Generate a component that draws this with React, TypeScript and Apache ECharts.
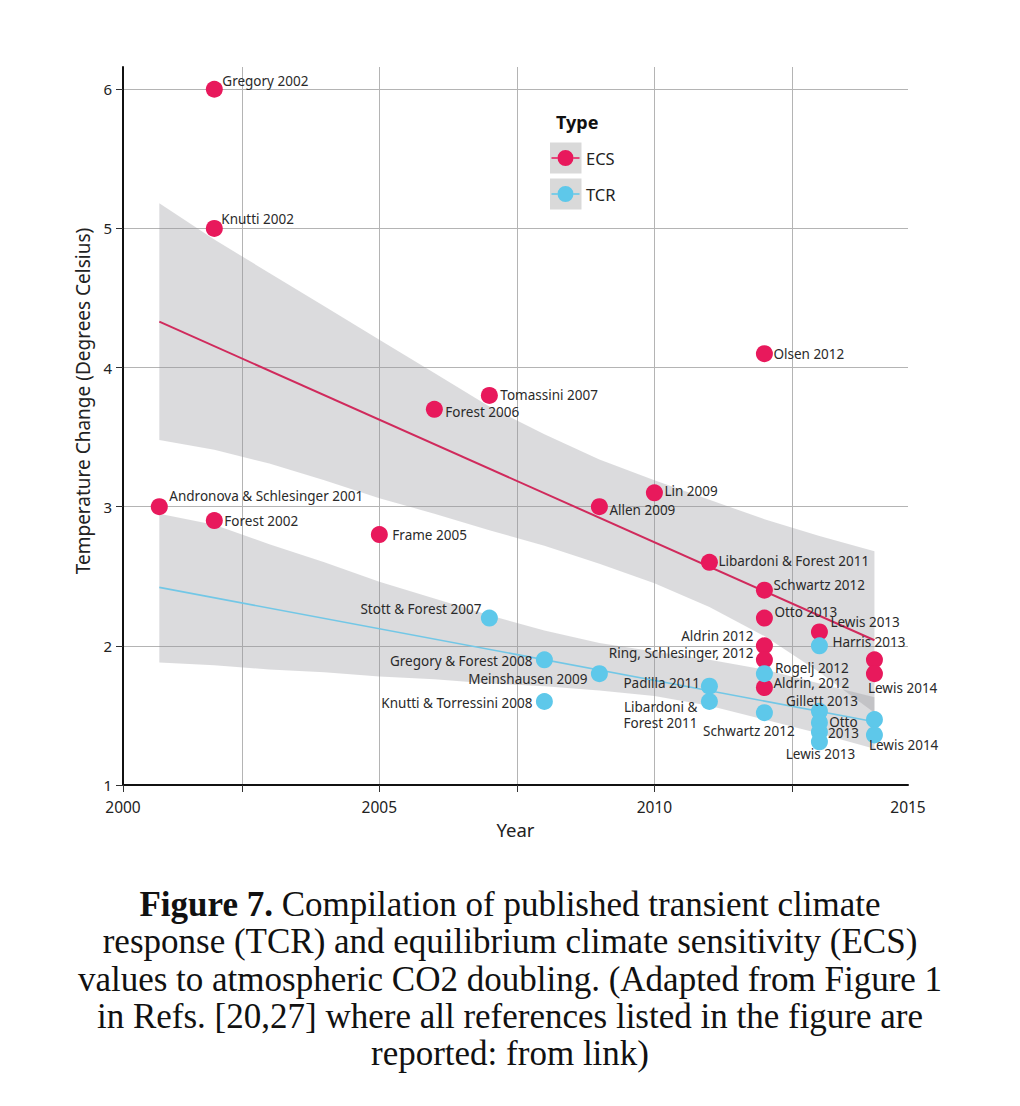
import React, { useEffect, useRef } from "react";
import * as echarts from "echarts";

// ---------- data ----------
const ecsNames = [
  "Gregory 2002", "Knutti 2002", "Andronova & Schlesinger 2001", "Forest 2002", "Frame 2005",
  "Forest 2006", "Tomassini 2007", "Allen 2009", "Lin 2009", "Libardoni & Forest 2011",
  "Schwartz 2012", "Olsen 2012", "Otto 2013", "Aldrin 2012", "Ring, Schlesinger, 2012",
  "Aldrin, 2012", "Lewis 2013", "", "Lewis 2014",
];
const ecsYears = [2002, 2002, 2001, 2002, 2005, 2006, 2007, 2009, 2010, 2011, 2012, 2012, 2012, 2012, 2012, 2012, 2013, 2014, 2014];
const ecsValues = [6.0, 5.0, 3.0, 2.9, 2.8, 3.7, 3.8, 3.0, 3.1, 2.6, 2.4, 4.1, 2.2, 2.0, 1.9, 1.7, 2.1, 1.9, 1.8];

const tcrNames = [
  "Stott & Forest 2007", "Gregory & Forest 2008", "Knutti & Torressini 2008", "Meinshausen 2009",
  "Padilla 2011", "Libardoni &\nForest 2011", "Rogelj 2012", "Schwartz 2012", "Harris 2013",
  "Gillett 2013", "Otto\n2013", "", "Lewis 2013", "", "Lewis 2014",
];
const tcrYears = [2007, 2008, 2008, 2009, 2011, 2011, 2012, 2012, 2013, 2013, 2013, 2013, 2013, 2014, 2014];
const tcrValues = [2.2, 1.9, 1.6, 1.8, 1.71, 1.6, 1.8, 1.52, 2.0, 1.53, 1.45, 1.38, 1.31, 1.47, 1.36];

// regression fits (end points)
const fitYears = [2001, 2014];
const ecsFit = [4.33, 2.04];
const tcrFit = [2.42, 1.455];

// confidence bands (edges read at each year)
const bandYears = [2001, 2002, 2003, 2004, 2005, 2006, 2007, 2008, 2009, 2010, 2011, 2012, 2013, 2014];
const ecsUpper = [5.18, 4.92, 4.68, 4.44, 4.2, 3.96, 3.72, 3.52, 3.34, 3.19, 3.05, 2.91, 2.79, 2.68];
const ecsLower = [3.48, 3.41, 3.31, 3.19, 3.06, 2.95, 2.83, 2.72, 2.59, 2.45, 2.28, 2.07, 1.81, 1.52];
const tcrUpper = [2.95, 2.87, 2.73, 2.6, 2.46, 2.34, 2.22, 2.11, 2.02, 1.96, 1.9, 1.83, 1.73, 1.63];
const tcrLower = [1.88, 1.86, 1.83, 1.81, 1.78, 1.76, 1.73, 1.71, 1.68, 1.64, 1.57, 1.47, 1.37, 1.26];

// axes
const xMin = 2000.34;
const xMax = 2014.61;
const xTickValues = [2000.34, 2002.5, 2005, 2007.5, 2010, 2012.5];
const xLabelValues = [2000.34, 2005, 2010, 2014.61];
const xTickLabels = ["2000", "2005", "2010", "2015"];
const yMin = 1;
const yMax = 6.16;
const yTickValues = [1, 2, 3, 4, 5, 6];
const yTickLabels = ["1", "2", "3", "4", "5", "6"];

const legendNames = ["ECS", "TCR"];
const legendTitle = "Type";
const xAxisTitle = "Year";
const yAxisTitle = "Temperature Change (Degrees Celsius)";
const captionLines = [
  "{b|Figure 7.} Compilation of published transient climate",
  "response (TCR) and equilibrium climate sensitivity (ECS)",
  "values to atmospheric CO2 doubling. (Adapted from Figure 1",
  "in Refs. [20,27] where all references listed in the figure are",
  "reported: from link)",
];

// ---------- label layout (align, dx, dy relative to point centre, line height) ----------
type LL = [string, number, number, number?];
const ecsLabelLayout: LL[] = [
  ["left", 8, -8], ["left", 7, -9], ["left", 10, -11], ["left", 10, 0], ["left", 13, 0],
  ["left", 11, 3], ["left", 11, 0], ["left", 10, 3.5], ["left", 10, -1.5], ["left", 9, -1],
  ["left", 9, -5], ["left", 9, 0], ["left", 10, -6], ["right", -11, -10], ["right", -11, -7],
  ["left", 9, -5], ["left", 11, -9.5], ["left", 0, 0], ["left", -6.5, 14.5],
];
const tcrLabelLayout: LL[] = [
  ["right", -8, -9], ["right", -12, 1], ["right", -12, 1], ["right", -12, 5.5],
  ["right", -9.5, -3.5], ["right", -12, 13.5, 16], ["left", 10.5, -5.5], ["center", -15.5, 18], ["left", 13, -4],
  ["center", 2.5, -10.5], ["center", 24, 5, 11], ["left", 0, 0], ["center", 1, 12], ["left", 0, 0], ["left", -5.5, 10],
];

const ECS_COLOR = "#E8195C";
const TCR_COLOR = "#5EC8EA";
const ECS_LINE = "#D02A5C";
const TCR_LINE = "#72C7E6";
const BAND = "rgba(150,150,156,0.34)";
const SANS = "Noto Sans";
const SERIF = "Liberation Serif";
const SYM = 17;

function pointData(years: number[], values: number[], names: string[], layout: LL[]) {
  return years.map((yr, i) => {
    const [align, dx, dy, lh] = layout[i];
    return {
      value: [yr, values[i]],
      name: names[i],
      label: {
        show: names[i] !== "",
        formatter: names[i],
        position: [SYM / 2 + dx, SYM / 2 + dy],
        align,
        verticalAlign: "middle",
        lineHeight: lh ?? 13,
      },
    };
  });
}

function bandSeries(name: string, upper: number[], lower: number[]) {
  return {
    type: "custom",
    name,
    silent: true,
    z: 1,
    clip: true,
    data: [[bandYears[0], upper[0]]],
    renderItem: (_params: any, api: any) => {
      const pts: number[][] = [];
      for (let i = 0; i < bandYears.length; i++) pts.push(api.coord([bandYears[i], upper[i]]));
      for (let i = bandYears.length - 1; i >= 0; i--) pts.push(api.coord([bandYears[i], lower[i]]));
      return { type: "polygon", shape: { points: pts }, style: { fill: BAND } };
    },
  };
}

const legendIcon =
  "path://M0,0M31,31M1.5,14.75h6v1.5h-6zM23.5,14.75h6v1.5h-6zM7.5,15.5a8,8 0 1,0 16,0a8,8 0 1,0 -16,0z";

export default function App() {
  const ref = useRef<HTMLDivElement>(null);
  useEffect(() => {
    if (!ref.current) return;
    const chart = echarts.init(ref.current, undefined, { renderer: "svg" });
    const labelStyle = { color: "#2a2a2a", fontFamily: SANS, fontSize: 13.5, lineHeight: 13 };
    const option: any = {
      animation: false,
      backgroundColor: "#ffffff",
      title: {
        text: captionLines.join("\n"),
        left: "center",
        top: 881,
        textStyle: {
          fontFamily: SERIF,
          fontSize: 35,
          fontWeight: "normal",
          color: "#111",
          lineHeight: 37.3,
          rich: {
            b: { fontFamily: SERIF, fontSize: 35, fontWeight: "bold", color: "#111", lineHeight: 37.3 },
          },
        },
      },
      grid: { left: 123, right: 112, top: 67, bottom: 321, containLabel: false, outerBoundsMode: "none" },
      legend: {
        data: legendNames,
        orient: "vertical",
        left: 550,
        top: 142.5,
        padding: 0,
        itemWidth: 31,
        itemHeight: 31,
        itemGap: 5,
        icon: legendIcon,
        selectedMode: false,
        textStyle: { fontFamily: SANS, fontSize: 16.5, color: "#222" },
        z: 5,
      },
      graphic: [
        { type: "rect", left: 550, top: 142.5, z: 1, shape: { width: 31.5, height: 31 }, style: { fill: "#d9d9d9" } },
        { type: "rect", left: 550, top: 178.5, z: 1, shape: { width: 31.5, height: 31 }, style: { fill: "#d9d9d9" } },
        {
          type: "text", left: 556, top: 113, z: 5,
          style: { text: legendTitle, fontFamily: SANS, fontSize: 18, fontWeight: "bold", fill: "#111" },
        },
      ],
      xAxis: {
        type: "value",
        min: xMin,
        max: xMax,
        name: xAxisTitle,
        nameLocation: "middle",
        nameGap: 26,
        nameTextStyle: { fontFamily: SANS, fontSize: 18.5, color: "#222" },
        axisLine: { show: true, lineStyle: { color: "#111", width: 2 } },
        axisTick: { show: true, customValues: xTickValues, length: 7, lineStyle: { color: "#333", width: 1 } },
        splitLine: { show: true, lineStyle: { color: "#b4b4b4", width: 1 } },
        axisLabel: {
          customValues: xLabelValues,
          margin: 14,
          fontFamily: SANS,
          fontSize: 15.5,
          color: "#222",
          formatter: (v: number) => {
            let best = 0;
            for (let i = 0; i < xLabelValues.length; i++) {
              if (Math.abs(xLabelValues[i] - v) < Math.abs(xLabelValues[best] - v)) best = i;
            }
            return xTickLabels[best];
          },
        },
      },
      yAxis: {
        type: "value",
        min: yMin,
        max: yMax,
        name: yAxisTitle,
        nameLocation: "middle",
        nameRotate: 90,
        nameGap: 27,
        nameTextStyle: { fontFamily: SANS, fontSize: 19, color: "#222", padding: [0, 0, 0, 50] },
        axisLine: { show: true, lineStyle: { color: "#111", width: 2 } },
        axisTick: { show: true, customValues: yTickValues, length: 7, lineStyle: { color: "#333", width: 1 } },
        splitLine: { show: true, lineStyle: { color: "#b4b4b4", width: 1 } },
        axisLabel: {
          customValues: yTickValues,
          margin: 11,
          fontFamily: SANS,
          fontSize: 15,
          color: "#222",
          formatter: (v: number) => {
            const i = yTickValues.indexOf(Math.round(v));
            return i >= 0 ? yTickLabels[i] : String(v);
          },
        },
      },
      series: [
        bandSeries("ECS band", ecsUpper, ecsLower),
        bandSeries("TCR band", tcrUpper, tcrLower),
        {
          type: "line", name: "ECS fit", silent: true, symbol: "none", z: 2,
          data: fitYears.map((x, i) => [x, ecsFit[i]]),
          lineStyle: { color: ECS_LINE, width: 2 },
        },
        {
          type: "line", name: "TCR fit", silent: true, symbol: "none", z: 2,
          data: fitYears.map((x, i) => [x, tcrFit[i]]),
          lineStyle: { color: TCR_LINE, width: 1.6 },
        },
        {
          type: "scatter", name: "ECS", z: 3, symbol: "circle", symbolSize: SYM,
          itemStyle: { color: ECS_COLOR, opacity: 1 },
          label: labelStyle,
          labelLayout: { hideOverlap: false },
          data: pointData(ecsYears, ecsValues, ecsNames, ecsLabelLayout),
        },
        {
          type: "scatter", name: "TCR", z: 3, symbol: "circle", symbolSize: SYM,
          itemStyle: { color: TCR_COLOR, opacity: 1 },
          label: labelStyle,
          labelLayout: { hideOverlap: false },
          data: pointData(tcrYears, tcrValues, tcrNames, tcrLabelLayout),
        },
      ],
    };
    chart.setOption(option);
    return () => chart.dispose();
  }, []);
  return (
    <div
      ref={ref}
      style={{ position: "absolute", left: 0, top: 0, width: 1020, height: 1106, background: "#fff" }}
    />
  );
}
